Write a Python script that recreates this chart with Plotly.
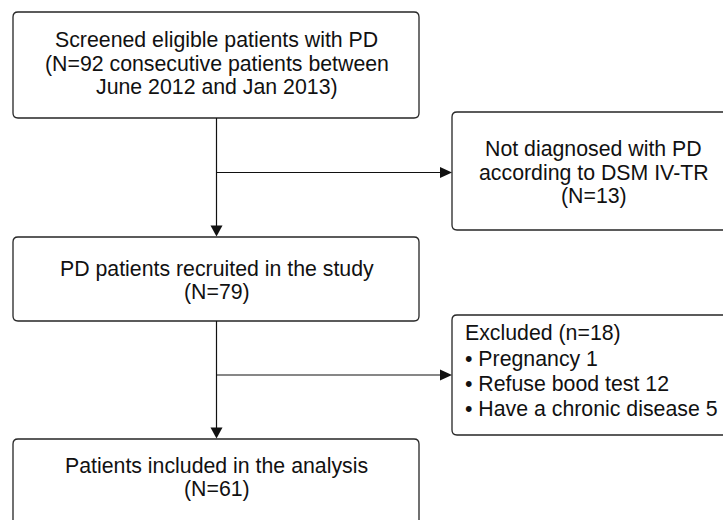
import plotly.graph_objects as go

# ---- data (flowchart content) ----
screen_label = "Screened eligible patients with PD"
screen_n = 92
screen_period = ["consecutive patients between", "June 2012 and Jan 2013"]
recruit_label = "PD patients recruited in the study"
recruit_n = 79
analysis_label = "Patients included in the analysis"
analysis_n = 61
not_diag_lines = ["Not diagnosed with PD", "according to DSM IV-TR"]
not_diag_n = 13
excluded_n = 18
excluded_reasons = ["Pregnancy", "Refuse bood test", "Have a chronic disease"]
excluded_counts = [1, 12, 5]

# ---- layout geometry ----
W, H = 723, 520
FONT = dict(family="Liberation Sans, Arial, sans-serif", size=21.3, color="#111111")
BOX_LINE = dict(color="#262626", width=1.3)
ARROW_LINE = dict(color="#111111", width=1.2)

def rrect(x0, y0, x1, y1, r=5):
    p = (f"M {x0+r},{y0} L {x1-r},{y0} Q {x1},{y0} {x1},{y0+r} "
         f"L {x1},{y1-r} Q {x1},{y1} {x1-r},{y1} L {x0+r},{y1} "
         f"Q {x0},{y1} {x0},{y1-r} L {x0},{y0+r} Q {x0},{y0} {x0+r},{y0} Z")
    return dict(type="path", path=p, line=BOX_LINE, fillcolor="white",
                xref="x", yref="y", layer="below")

def tri_down(x, ytip, h=11, hw=6):
    return dict(type="path", path=f"M {x-hw},{ytip-h} L {x+hw},{ytip-h} L {x},{ytip} Z",
                fillcolor="#111111", line=dict(width=0), xref="x", yref="y")

def tri_right(xtip, y, w=12, hh=5.5):
    return dict(type="path", path=f"M {xtip-w},{y-hh} L {xtip-w},{y+hh} L {xtip},{y} Z",
                fillcolor="#111111", line=dict(width=0), xref="x", yref="y")

def line(x0, y0, x1, y1):
    return dict(type="line", x0=x0, y0=y0, x1=x1, y1=y1, line=ARROW_LINE,
                xref="x", yref="y")

cx = 216.5
shapes = [
    rrect(13, 12, 419, 118),
    rrect(452, 112, 770, 230),
    rrect(13, 237, 419, 321),
    rrect(452, 315, 770, 435),
    rrect(13, 439, 419, 560),
    line(cx, 118, cx, 226),
    tri_down(cx, 236.5),
    line(cx, 172.5, 441, 172.5),
    tri_right(452, 172.5),
    line(cx, 321, cx, 428),
    tri_down(cx, 438.5),
    line(cx, 375, 441, 375),
    tri_right(452, 375),
]

annotations = []
def txt(x, y, s, anchor="center"):
    annotations.append(dict(x=x, y=y, text=s, xref="x", yref="y", showarrow=False,
                            xanchor=anchor, yanchor="middle", font=FONT))

box1 = [screen_label, f"(N={screen_n} {screen_period[0]}", f"{screen_period[1]})"]
for i, s in enumerate(box1):
    txt(cx, 40.2 + 23.3 * i, s)

box2 = not_diag_lines + [f"(N={not_diag_n})"]
for i, s in enumerate(box2):
    txt(593.5, 149.2 + 23.3 * i, s)

box3 = [recruit_label, f"(N={recruit_n})"]
for i, s in enumerate(box3):
    txt(cx, 268.5 + 23.3 * i, s)

box4 = [analysis_label, f"(N={analysis_n})"]
for i, s in enumerate(box4):
    txt(cx, 465.8 + 23.3 * i, s)

box5 = [f"Excluded (n={excluded_n})"] + [f"\u2022 {r} {c}" for r, c in zip(excluded_reasons, excluded_counts)]
for i, s in enumerate(box5):
    txt(463, 333.2 + 25.3 * i, s, anchor="left")

fig = go.Figure()
fig.update_layout(
    width=W, height=H,
    margin=dict(l=0, r=0, t=0, b=0),
    paper_bgcolor="white", plot_bgcolor="white",
    xaxis=dict(range=[0, W], visible=False, fixedrange=True),
    yaxis=dict(range=[H, 0], visible=False, fixedrange=True),
    shapes=shapes, annotations=annotations, showlegend=False,
)
fig.write_html("out.html", config={"displayModeBar": False},
               post_script="document.body.style.margin='0';")
